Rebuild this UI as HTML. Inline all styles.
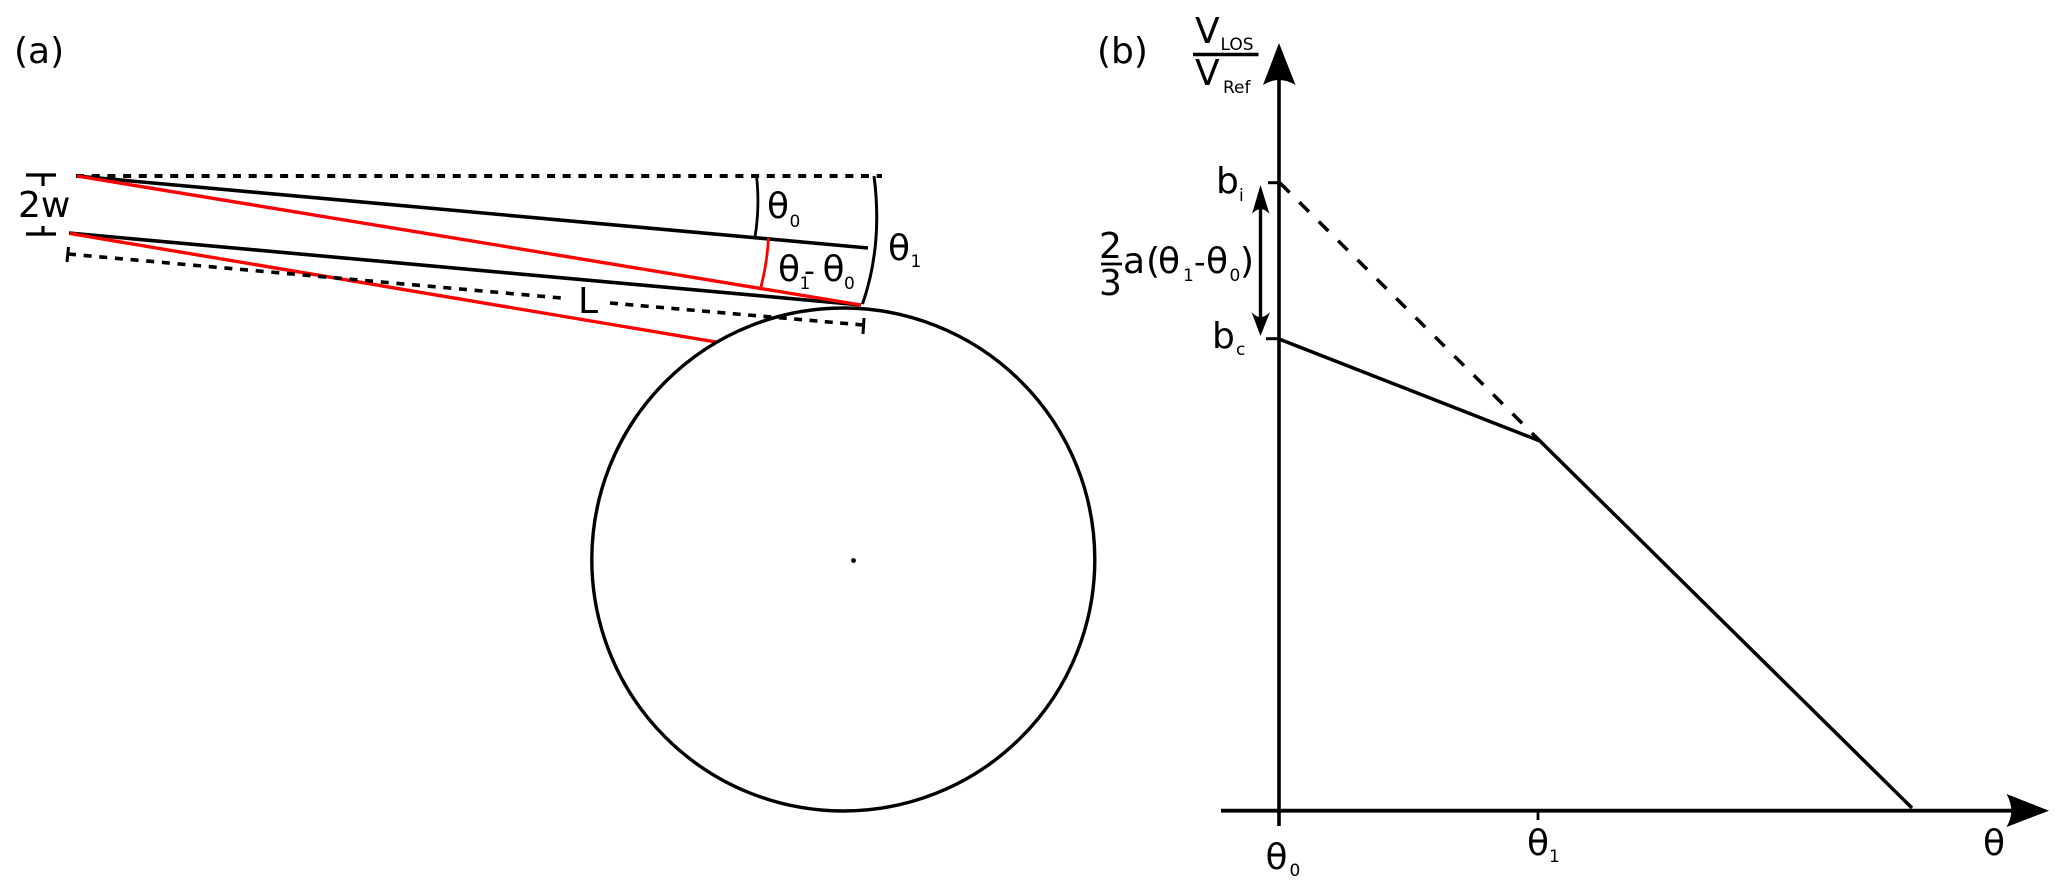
<!DOCTYPE html>
<html>
<head>
<meta charset="utf-8">
<style>
html,body{margin:0;padding:0;background:#fff;width:2067px;height:894px;overflow:hidden}
svg{display:block;filter:blur(.35px)}
text{font-family:"DejaVu Sans","Liberation Sans",sans-serif;fill:#000}
.m{font-size:36px}
.s{font-size:17px}
</style>
</head>
<body>
<svg width="2067" height="894" viewBox="0 0 2067 894" xmlns="http://www.w3.org/2000/svg">
<rect width="2067" height="894" fill="#fff"/>

<!-- panel a -->
<text class="m" x="14" y="63">(a)</text>

<line x1="76" y1="176" x2="882" y2="176" stroke="#000" stroke-width="4" stroke-dasharray="8 7.7"/>
<line x1="76" y1="176" x2="868" y2="248" stroke="#000" stroke-width="3.6"/>
<line x1="69" y1="233" x2="861" y2="305" stroke="#000" stroke-width="3.6"/>
<line x1="77" y1="176" x2="861" y2="305" stroke="#f00" stroke-width="3.4"/>
<line x1="70" y1="233.5" x2="716" y2="342" stroke="#f00" stroke-width="3.4"/>

<!-- 2w ticks -->
<path d="M26 175H56M43 175V186M26 234H56M43 226V234" fill="none" stroke="#000" stroke-width="3.2"/>
<text class="m" x="18" y="217">2w</text>

<!-- L dimension -->
<line x1="68" y1="254" x2="561" y2="298" stroke="#000" stroke-width="3.6" stroke-dasharray="8 7.7"/>
<line x1="610" y1="303" x2="863" y2="325" stroke="#000" stroke-width="3.6" stroke-dasharray="8 7.4"/>
<line x1="68.5" y1="247" x2="67" y2="262" stroke="#000" stroke-width="3"/>
<line x1="864" y1="318" x2="863" y2="334" stroke="#000" stroke-width="3"/>
<text class="m" x="578" y="313">L</text>

<!-- arcs -->
<path d="M756.5 176Q760 206 755 237" fill="none" stroke="#000" stroke-width="2.8"/>
<path d="M874 176Q883 245 862.5 304" fill="none" stroke="#000" stroke-width="3"/>
<path d="M768.5 238Q767 264 760.5 289" fill="none" stroke="#f00" stroke-width="2.8"/>

<text class="m" x="767" y="218">θ</text><text class="s" x="789.5" y="227">0</text>
<text class="m" x="888" y="260">θ</text><text class="s" x="910.5" y="267">1</text>
<text class="m" x="778" y="281">θ</text><text class="s" x="799.5" y="289">1</text>
<text class="m" x="804" y="281" style="font-size:30px">-</text>
<text class="m" x="822.5" y="281">θ</text><text class="s" x="844" y="289">0</text>

<!-- circle -->
<circle cx="843.3" cy="559.5" r="251.5" fill="none" stroke="#000" stroke-width="3.4"/>
<circle cx="853.5" cy="560.5" r="2.4" fill="#000"/>

<!-- panel b -->
<text class="m" x="1097" y="63">(b)</text>

<text class="m" x="1195" y="43">V</text><text class="s" x="1220.5" y="50">LOS</text>
<line x1="1193" y1="54.5" x2="1258.5" y2="54.5" stroke="#000" stroke-width="3.4"/>
<text class="m" x="1195" y="85">V</text><text class="s" x="1223" y="93">Ref</text>

<!-- y axis -->
<line x1="1279" y1="72" x2="1279" y2="826" stroke="#000" stroke-width="3.6"/>
<path d="M1279 43L1295.5 85Q1279 75 1263 85Z" fill="#000"/>

<!-- x axis -->
<line x1="1221" y1="810.7" x2="2015" y2="810.7" stroke="#000" stroke-width="3.8"/>
<path d="M2049 810.7L2006.5 794Q2016 810.7 2006.5 827Z" fill="#000"/>
<line x1="1538" y1="811" x2="1538" y2="820" stroke="#000" stroke-width="2.8"/>

<!-- curve -->
<path d="M1279 339L1540 441L1912 808" fill="none" stroke="#000" stroke-width="3.5"/>
<line x1="1280" y1="183" x2="1540" y2="441" stroke="#000" stroke-width="3.5" stroke-dasharray="13.5 13.8"/>
<line x1="1268" y1="182.7" x2="1280" y2="182.7" stroke="#000" stroke-width="3"/>
<line x1="1266" y1="338.7" x2="1279" y2="338.7" stroke="#000" stroke-width="3"/>

<!-- double arrow -->
<line x1="1260.5" y1="200" x2="1260.5" y2="322" stroke="#000" stroke-width="3.4"/>
<path d="M1260.5 185L1269.5 214Q1260.5 204 1252 214Z" fill="#000"/>
<path d="M1260.5 336L1270 312Q1260.5 322 1251.5 312Z" fill="#000"/>

<text class="m" x="1216" y="193">b</text><text class="s" x="1239" y="201">i</text>
<text class="m" x="1212" y="348">b</text><text class="s" x="1236" y="355">c</text>

<!-- fraction -->
<text class="m" x="1099" y="258">2</text>
<line x1="1101" y1="264" x2="1122" y2="264" stroke="#000" stroke-width="2.8"/>
<text class="m" x="1099" y="295">3</text>
<text class="m" x="1123" y="273">a</text>
<text class="m" x="1146" y="273">(</text>
<text class="m" x="1158" y="273">θ</text><text class="s" x="1183" y="281">1</text>
<text class="m" x="1194" y="273" style="font-size:32px">-</text>
<text class="m" x="1206" y="273">θ</text><text class="s" x="1229.5" y="281">0</text>
<text class="m" x="1240" y="273">)</text>

<!-- bottom labels -->
<text class="m" x="1265.5" y="869">θ</text><text class="s" x="1289.5" y="876">0</text>
<text class="m" x="1527" y="855">θ</text><text class="s" x="1549" y="862">1</text>
<text class="m" x="1983" y="855">θ</text>
</svg>
</body>
</html>
